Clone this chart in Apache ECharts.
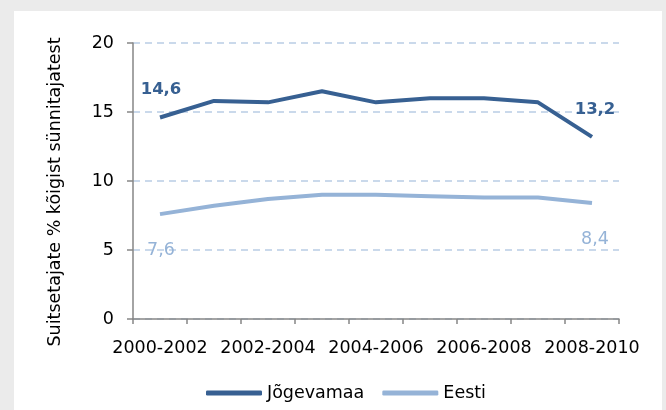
<!DOCTYPE html>
<html lang="et" style="height: 100%;margin: 0;">
<head>
    <meta charset="UTF-8">
    <title>chart</title>
</head>
<body style="height: 100%;margin: 0;background: #ebebeb;">
<div id="chart" style="width: 666px;height: 410px;margin: 0;"></div>
<script src="https://cdn.jsdelivr.net/npm/echarts@6/dist/echarts.min.js"></script>
<script>
    var categories = ['2000-2002', '2001-2003', '2002-2004', '2003-2005', '2004-2006',
        '2005-2007', '2006-2008', '2007-2009', '2008-2010'];
    var jogevamaa = [14.6, 15.8, 15.7, 16.5, 15.7, 16.0, 16.0, 15.7, 13.2];
    var eesti = [7.6, 8.2, 8.7, 9.0, 9.0, 8.9, 8.8, 8.8, 8.4];
    var seriesNames = ['Jõgevamaa', 'Eesti'];
    var yTitle = 'Suitsetajate % kõigist sünnitajatest';

    var font = 'DejaVu Sans';
    var dark = '#376092';
    var light = '#95b3d7';

    // only first and last points carry a value label
    function withEndLabels(values, label) {
        return values.map(function (v, i) {
            var show = i === 0 || i === values.length - 1;
            return {
                value: v,
                label: show ? Object.assign({show: true}, label, {offset: [i === 0 ? 1 : 3, 0]}) : {show: false}
            };
        });
    }

    function comma(p) {
        return String(p.value).replace('.', ',');
    }

    var myChart = echarts.init(document.getElementById('chart'), null, {renderer: 'canvas'});
    var option = {
        backgroundColor: '#ebebeb',
        animation: false,
        textStyle: {fontFamily: font},
        graphic: [{
            type: 'rect',
            z: -10,
            shape: {x: 14, y: 11, width: 648, height: 410},
            style: {fill: '#ffffff'}
        }, {
            type: 'text',
            x: 55,
            y: 192,
            rotation: Math.PI / 2,
            style: {
                text: yTitle,
                fontFamily: font,
                fontSize: 17.5,
                fill: '#000',
                align: 'center',
                verticalAlign: 'middle'
            }
        }],
        grid: {left: 133, right: 47, top: 43, bottom: 91},
        legend: {
            data: seriesNames,
            left: 201,
            top: 379,
            icon: 'roundRect',
            itemWidth: 56,
            itemHeight: 5,
            itemGap: 18,
            textStyle: {fontFamily: font, fontSize: 17.5, color: '#000'}
        },
        xAxis: {
            type: 'category',
            data: categories,
            boundaryGap: true,
            axisLine: {lineStyle: {color: '#868686', width: 1.5}},
            axisTick: {show: true, interval: 0, length: 5, lineStyle: {color: '#868686', width: 1.5}},
            axisLabel: {interval: 1, margin: 20, fontFamily: font, fontSize: 17.5, color: '#000'},
            splitLine: {show: false}
        },
        yAxis: {
            type: 'value',
            min: 0,
            max: 20,
            interval: 5,
            axisLine: {show: true, lineStyle: {color: '#868686', width: 1.5}},
            axisTick: {show: true, length: 6, lineStyle: {color: '#868686', width: 1.5}},
            axisLabel: {margin: 19, fontFamily: font, fontSize: 17.5, color: '#000'},
            splitLine: {show: true, lineStyle: {color: '#b9cde5', width: 1.5, type: [7, 5]}}
        },
        series: [{
            name: seriesNames[0],
            type: 'line',
            symbol: 'circle',
            symbolSize: 0.1,
            showSymbol: true,
            color: dark,
            lineStyle: {width: 4, color: dark},
            data: withEndLabels(jogevamaa, {
                position: 'top', distance: 19, color: dark, fontWeight: 'bold',
                fontFamily: font, fontSize: 16.5, formatter: comma
            })
        }, {
            name: seriesNames[1],
            type: 'line',
            symbol: 'circle',
            symbolSize: 0.1,
            showSymbol: true,
            color: light,
            lineStyle: {width: 4, color: light},
            data: withEndLabels(eesti, {
                position: 'bottom', distance: 27.5, color: light,
                fontFamily: font, fontSize: 17.5, formatter: comma
            })
        }]
    };
    myChart.setOption(option, true);
</script>
</body>
</html>
